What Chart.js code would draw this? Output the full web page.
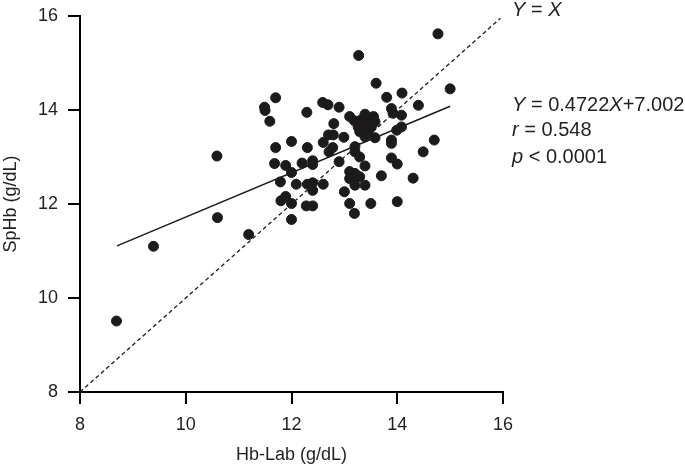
<!DOCTYPE html>
<html>
<head>
<meta charset="utf-8">
<script src="https://cdn.jsdelivr.net/npm/chart.js@4.4.1/dist/chart.umd.min.js"></script>
<style>
  html, body { margin: 0; padding: 0; background: #fff; }
  #box { width: 685px; height: 468px; }
</style>
</head>
<body>
<div id="box"><canvas id="grafico"></canvas></div>
<script>
// Hb-Lab (x) vs SpHb (y)
var hbLab = [8.69, 9.39, 10.59, 10.60, 11.19, 11.70, 11.49, 11.50, 11.59, 12.29,
    12.59, 12.69, 12.90, 13.10, 13.27, 12.80, 13.19, 12.70, 12.79, 12.99,
    12.00, 11.70, 12.30, 12.60, 12.71, 12.40, 12.40, 11.68, 11.89, 12.00,
    12.20, 12.90, 11.79, 12.09, 12.30, 12.40, 12.40, 12.60, 11.80, 11.89,
    12.00, 12.28, 12.40, 13.00, 13.10, 13.19, 12.00, 13.80, 14.09, 14.40,
    13.89, 13.92, 14.08, 13.39, 13.55, 13.32, 13.45, 13.58, 13.26, 13.39,
    13.51, 13.29, 13.45, 14.08, 13.99, 13.39, 13.58, 13.89, 13.89, 14.70,
    14.49, 13.20, 13.20, 13.29, 13.89, 14.00, 13.39, 13.10, 13.20, 13.17,
    13.29, 13.10, 13.20, 13.39, 13.70, 14.30, 13.50, 14.00, 14.77, 15.00,
    13.60, 12.78];
var spHb = [9.51, 11.10, 13.02, 11.71, 11.35, 14.26, 14.06, 13.99, 13.76, 13.95,
    14.16, 14.11, 14.06, 13.86, 15.16, 13.71, 13.77, 13.47, 13.47, 13.42,
    13.33, 13.20, 13.20, 13.31, 13.11, 12.92, 12.84, 12.86, 12.82, 12.67,
    12.87, 12.90, 12.47, 12.42, 12.42, 12.45, 12.29, 12.42, 12.07, 12.16,
    12.01, 11.96, 11.96, 12.26, 12.01, 11.80, 11.67, 14.27, 14.36, 14.10,
    14.03, 13.93, 13.89, 13.91, 13.86, 13.79, 13.79, 13.75, 13.64, 13.68,
    13.64, 13.54, 13.54, 13.64, 13.57, 13.43, 13.41, 13.36, 13.29, 13.36,
    13.11, 13.22, 13.11, 13.00, 12.98, 12.85, 12.81, 12.69, 12.65, 12.54,
    12.58, 12.54, 12.40, 12.40, 12.60, 12.55, 12.01, 12.05, 15.62, 14.45,
    14.57, 13.20];

// reta de regressão e linha Y = X (extremos)
var regressaoX = [8.7, 15.0];
var regressaoY = [11.11, 14.08];
var identidadeX = [8, 15.95];
var identidadeY = [8, 15.95];

var ticksX = [8, 10, 12, 14, 16];
var ticksY = [8, 10, 12, 14, 16];

var fonte = "'Liberation Sans', Arial, Helvetica, sans-serif";
var corTexto = '#231f20';

function pares(xs, ys) {
    var lista = [];
    for (var i = 0; i < xs.length; i++) {
        lista.push({ x: xs[i], y: ys[i] });
    }
    return lista;
}

// textos da direita: [texto, italico]
var notas = [
    { linha: [['Y', true], [' = ', false], ['X', true]], topo: -6 },
    { linha: [['Y', true], [' = 0.4722', false], ['X', true], ['+7.002', false]], topo: 89 },
    { linha: [['r', true], [' = 0.548', false]], topo: 114 },
    { linha: [['p', true], [' < 0.0001', false]], topo: 141 }
];

// tracinhos dos eixos (para fora), nas posições dos ticks
var pluginTracos = {
    id: 'tracos',
    afterDraw: function (chart) {
        var ctx = chart.ctx;
        var area = chart.chartArea;
        var sx = chart.scales.x;
        var sy = chart.scales.y;
        ctx.save();
        ctx.strokeStyle = '#000';
        ctx.lineWidth = 2;
        ctx.beginPath();
        for (var i = 0; i < ticksX.length; i++) {
            var px = Math.round(sx.getPixelForValue(ticksX[i]));
            ctx.moveTo(px, area.bottom);
            ctx.lineTo(px, area.bottom + 12);
        }
        for (var j = 0; j < ticksY.length; j++) {
            var py = Math.round(sy.getPixelForValue(ticksY[j]));
            ctx.moveTo(area.left, py);
            ctx.lineTo(area.left - 12, py);
        }
        ctx.stroke();
        ctx.restore();
    }
};

var pluginNotas = {
    id: 'notas',
    afterDraw: function (chart) {
        var ctx = chart.ctx;
        var area = chart.chartArea;
        ctx.save();
        ctx.fillStyle = corTexto;
        ctx.textBaseline = 'middle';
        ctx.textAlign = 'left';
        for (var i = 0; i < notas.length; i++) {
            var x = area.right + 9;
            var y = area.top + notas[i].topo;
            var partes = notas[i].linha;
            for (var j = 0; j < partes.length; j++) {
                ctx.font = (partes[j][1] ? 'italic ' : '') + '20px ' + fonte;
                ctx.fillText(partes[j][0], x, y);
                x += ctx.measureText(partes[j][0]).width;
            }
        }
        ctx.restore();
    }
};

var config = {
    type: 'scatter',
    data: {
        datasets: [{
            label: 'pontos',
            data: pares(hbLab, spHb),
            backgroundColor: '#1c1a1b',
            borderColor: '#1c1a1b',
            pointRadius: 5,
            pointHoverRadius: 5
        }, {
            label: 'regressao',
            data: pares(regressaoX, regressaoY),
            showLine: true,
            borderColor: '#1c1a1b',
            borderWidth: 1.5,
            pointRadius: 0,
            fill: false
        }, {
            label: 'identidade',
            data: pares(identidadeX, identidadeY),
            showLine: true,
            borderColor: '#1c1a1b',
            borderWidth: 1.3,
            borderDash: [4, 3],
            pointRadius: 0,
            fill: false,
            clip: false
        }]
    },
    options: {
        responsive: true,
        maintainAspectRatio: false,
        animation: false,
        layout: { padding: { top: 16, right: 182, left: 0, bottom: 0 } },
        plugins: {
            legend: { display: false },
            tooltip: { enabled: false }
        },
        scales: {
            x: {
                type: 'linear',
                min: 8,
                max: 16,
                afterBuildTicks: function (s) { s.ticks = ticksX.map(function (v) { return { value: v }; }); },
                afterFit: function (s) { s.height = 76; s.paddingLeft = 0; s.paddingRight = 0; },
                border: { display: true, color: '#000', width: 2 },
                grid: { display: false, drawTicks: false },
                ticks: { color: corTexto, font: { family: fonte, size: 18 }, padding: 22 },
                title: { display: true, text: 'Hb-Lab (g/dL)', color: corTexto, font: { family: fonte, size: 18 }, padding: { top: 0, bottom: 2 } }
            },
            y: {
                type: 'linear',
                min: 8,
                max: 16,
                afterBuildTicks: function (s) { s.ticks = ticksY.map(function (v) { return { value: v }; }); },
                afterFit: function (s) { s.width = 80; s.paddingTop = 0; s.paddingBottom = 0; },
                border: { display: true, color: '#000', width: 2 },
                grid: { display: false, drawTicks: false },
                ticks: { color: corTexto, font: { family: fonte, size: 18 }, padding: 22 },
                title: { display: true, text: 'SpHb (g/dL)', color: corTexto, font: { family: fonte, size: 18 }, padding: { top: 0, bottom: 0 } }
            }
        }
    },
    plugins: [pluginTracos, pluginNotas]
};

window.grafico = new Chart(document.getElementById('grafico').getContext('2d'), config);
</script>
</body>
</html>
